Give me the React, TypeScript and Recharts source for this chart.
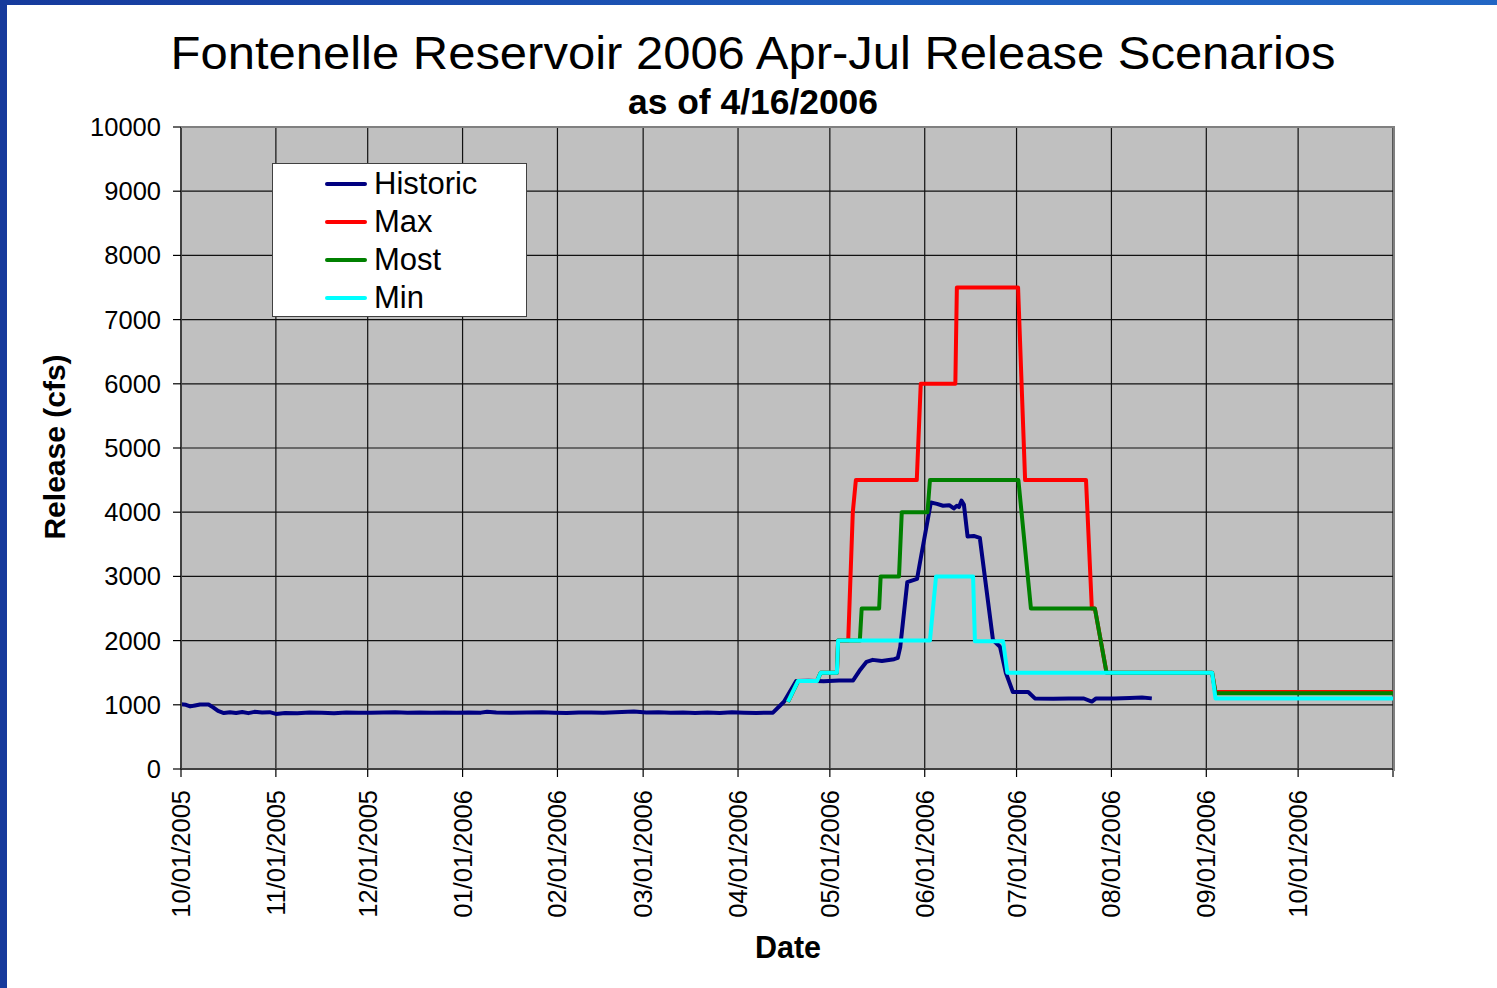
import React from 'react';
import { LineChart, Line, XAxis, YAxis, CartesianGrid, Legend } from 'recharts';

const FONT = '"Liberation Sans", Arial, Helvetica, sans-serif';

// X axis: days since 10/01/2005
const tickDays = [0, 31, 61, 92, 123, 151, 182, 212, 243, 273, 304, 335, 365, 396];
const tickLabels = [
  '10/01/2005', '11/01/2005', '12/01/2005', '01/01/2006', '02/01/2006', '03/01/2006',
  '04/01/2006', '05/01/2006', '06/01/2006', '07/01/2006', '08/01/2006', '09/01/2006',
  '10/01/2006', '',
];
const yTicks = [0, 1000, 2000, 3000, 4000, 5000, 6000, 7000, 8000, 9000, 10000];

const historicDays = [
  0, 1.6, 3, 4.6, 6.2, 9, 10.5, 12.1, 14, 16, 18, 20, 22, 24, 26.5, 29, 31, 34, 38, 42, 46, 50,
  54, 58, 62, 66, 70, 74, 78, 82, 86, 90, 94, 98, 100, 103, 108, 113, 118, 122, 126, 130, 134,
  138, 142, 146, 148, 152, 156, 160, 164, 168, 172, 176, 180, 184, 188, 193.4, 197, 201, 205,
  210, 215, 219.6, 222, 224, 226, 229, 233, 234.2, 235, 237.3, 240.5, 241.2, 245, 247, 249,
  251, 252.5, 253.5, 254.2, 255, 255.8, 257, 259, 261, 265.3, 267.6, 269.5, 271.8, 276.8,
  279, 285, 290, 295, 297.6, 299, 305, 310, 314, 317.2,
];
const historicCfs = [
  1010, 1000, 975, 990, 1005, 1005, 960, 905, 872, 885, 872, 888, 870, 890, 880, 885, 858, 872,
  870, 880, 878, 870, 880, 876, 878, 880, 884, 876, 880, 878, 880, 877, 882, 878, 893, 880, 876,
  880, 884, 878, 872, 880, 882, 878, 884, 890, 895, 880, 884, 878, 880, 874, 880, 872, 884, 878,
  874, 877, 1048, 1370, 1375, 1368, 1378, 1380, 1550, 1670, 1700, 1682, 1710, 1730, 1900, 2910,
  2960, 3150, 4150, 4130, 4100, 4110, 4060, 4100, 4080, 4180, 4120, 3620, 3630, 3600, 2010,
  1905, 1500, 1200, 1200, 1100, 1095, 1100, 1098, 1050, 1100, 1100, 1105, 1112, 1100,
];

const maxDays = [
  198.3, 201.6, 207.8, 209, 214.3, 214.7, 218, 219.5, 220.5, 240.4, 241.7, 253, 253.5, 273.5,
  275.8, 295.7, 297.6, 298.6, 302.4, 336.9, 338, 396,
];
const maxCfs = [
  1044, 1370, 1370, 1500, 1500, 2000, 2000, 4000, 4500, 4500, 6000, 6000, 7500, 7500, 4500, 4500,
  2500, 2500, 1500, 1500, 1200, 1200,
];

const mostDays = [
  198.3, 201.6, 207.8, 209, 214.3, 214.7, 221.8, 222.4, 228.1, 228.6, 234.6, 235.5, 243.9, 244.7,
  273.6, 277.7, 298.6, 302.4, 336.9, 338, 396,
];
const mostCfs = [
  1044, 1370, 1370, 1500, 1500, 2000, 2000, 2500, 2500, 3000, 3000, 4000, 4000, 4500, 4500, 2500,
  2500, 1500, 1500, 1180, 1180,
];

const minDays = [198.3, 201.6, 207.8, 209, 214.3, 214.7, 244.7, 246.7, 258.8, 259.4, 268.6, 270, 336.9, 338, 396];
const minCfs = [1044, 1370, 1370, 1500, 1500, 2000, 2000, 3000, 3000, 1990, 1990, 1500, 1500, 1100, 1100];

const seriesNames = ['Historic', 'Max', 'Most', 'Min'];
const seriesColors = ['#000080', '#FF0000', '#008000', '#00FFFF'];

const toPoints = (days: number[], vals: number[]) => days.map((d, i) => ({ day: d, cfs: vals[i] }));

const seriesData = [
  toPoints(historicDays, historicCfs),
  toPoints(maxDays, maxCfs),
  toPoints(mostDays, mostCfs),
  toPoints(minDays, minCfs),
];

const XTick = (props: any) => {
  const { x, y, payload } = props;
  const i = tickDays.indexOf(payload.value);
  return (
    <text
      x={x}
      y={y}
      transform={`rotate(-90, ${x}, ${y})`}
      textAnchor="end"
      dominantBaseline="central"
      fontSize={25.5}
      fontFamily={FONT}
      fill="#000"
    >
      {tickLabels[i]}
    </text>
  );
};

const LegendBox = () => (
  <div
    style={{
      width: 255,
      height: 154,
      boxSizing: 'border-box',
      background: '#fff',
      border: '1px solid #404040',
      position: 'relative',
      fontFamily: FONT,
    }}
  >
    {seriesNames.map((n, i) => (
      <div
        key={n}
        style={{
          position: 'absolute',
          left: 0,
          top: 1 + 38 * i,
          height: 38,
          width: 253,
          display: 'flex',
          alignItems: 'center',
        }}
      >
        <div
          style={{
            position: 'absolute',
            left: 52,
            width: 42,
            height: 4,
            borderRadius: 2,
            background: seriesColors[i],
          }}
        />
        <span style={{ position: 'absolute', left: 101, fontSize: 31, lineHeight: '38px', color: '#000' }}>{n}</span>
      </div>
    ))}
  </div>
);

export default function App() {
  const W = 1497;
  const H = 988;
  return (
    <div
      style={{
        position: 'absolute',
        left: 0,
        top: 0,
        width: W,
        height: H,
        background: '#fff',
        overflow: 'hidden',
        fontFamily: FONT,
      }}
    >
      <LineChart
        width={W}
        height={H}
        margin={{ top: 127, right: 104, bottom: 19, left: 0 }}
        style={{ position: 'absolute', left: 0, top: 0 }}
      >
        <CartesianGrid fill="#C0C0C0" stroke="#111" strokeWidth={1.2} />
        <XAxis
          type="number"
          dataKey="day"
          domain={[0, 396]}
          ticks={tickDays}
          interval={0}
          height={200}
          tickSize={8}
          tickMargin={13}
          tick={<XTick />}
          axisLine={{ stroke: '#404040', strokeWidth: 2 }}
          tickLine={{ stroke: '#000', strokeWidth: 1.2 }}
          allowDataOverflow
        />
        <YAxis
          type="number"
          domain={[0, 10000]}
          ticks={yTicks}
          interval={0}
          width={181}
          tickSize={8}
          tickMargin={12}
          tick={{ fill: '#000', fontSize: 25.5, fontFamily: FONT }}
          axisLine={{ stroke: '#404040', strokeWidth: 2 }}
          tickLine={{ stroke: '#000', strokeWidth: 1.2 }}
          allowDataOverflow
        />
        {seriesData.map((d, i) => (
          <Line
            key={seriesNames[i]}
            data={d}
            dataKey="cfs"
            name={seriesNames[i]}
            type="linear"
            stroke={seriesColors[i]}
            strokeWidth={4}
            strokeLinejoin="round"
            dot={false}
            activeDot={false}
            isAnimationActive={false}
          />
        ))}
        <Legend
          layout="horizontal"
          verticalAlign="middle"
          align="center"
          content={() => <LegendBox />}
          wrapperStyle={{ left: 272, top: 163, width: 255, height: 154 }}
        />
      </LineChart>
      {/* plot area frame (top / right) */}
      <div
        style={{
          position: 'absolute',
          left: 181,
          top: 126,
          width: 1212,
          height: 643,
          borderTop: '2px solid #808080',
          borderRight: '2px solid #808080',
          pointerEvents: 'none',
        }}
      />
      <svg width={W} height={H} style={{ position: 'absolute', left: 0, top: 0, pointerEvents: 'none' }}>
        <text
          x={753}
          y={69}
          textAnchor="middle"
          fontSize={47}
          textLength={1165}
          lengthAdjust="spacingAndGlyphs"
          fontFamily={FONT}
          fill="#000"
        >
          Fontenelle Reservoir 2006 Apr-Jul Release Scenarios
        </text>
        <text
          x={753}
          y={114}
          textAnchor="middle"
          fontSize={34.5}
          textLength={250}
          lengthAdjust="spacingAndGlyphs"
          fontWeight="bold"
          fontFamily={FONT}
          fill="#000"
        >
          as of 4/16/2006
        </text>
        <text
          x={65}
          y={447}
          transform="rotate(-90, 65, 447)"
          textAnchor="middle"
          fontSize={30}
          fontWeight="bold"
          fontFamily={FONT}
          fill="#000"
        >
          Release (cfs)
        </text>
        <text x={788} y={958} textAnchor="middle" fontSize={30.5} fontWeight="bold" fontFamily={FONT} fill="#000">
          Date
        </text>
      </svg>
      <div
        style={{
          position: 'absolute',
          left: 0,
          top: 0,
          width: W,
          height: 5,
          background: 'linear-gradient(to right, #163a9c, #1e5cbc 60%, #2266c4)',
        }}
      />
      <div style={{ position: 'absolute', left: 0, top: 0, width: 7, height: H, background: '#163a9c' }} />
    </div>
  );
}
